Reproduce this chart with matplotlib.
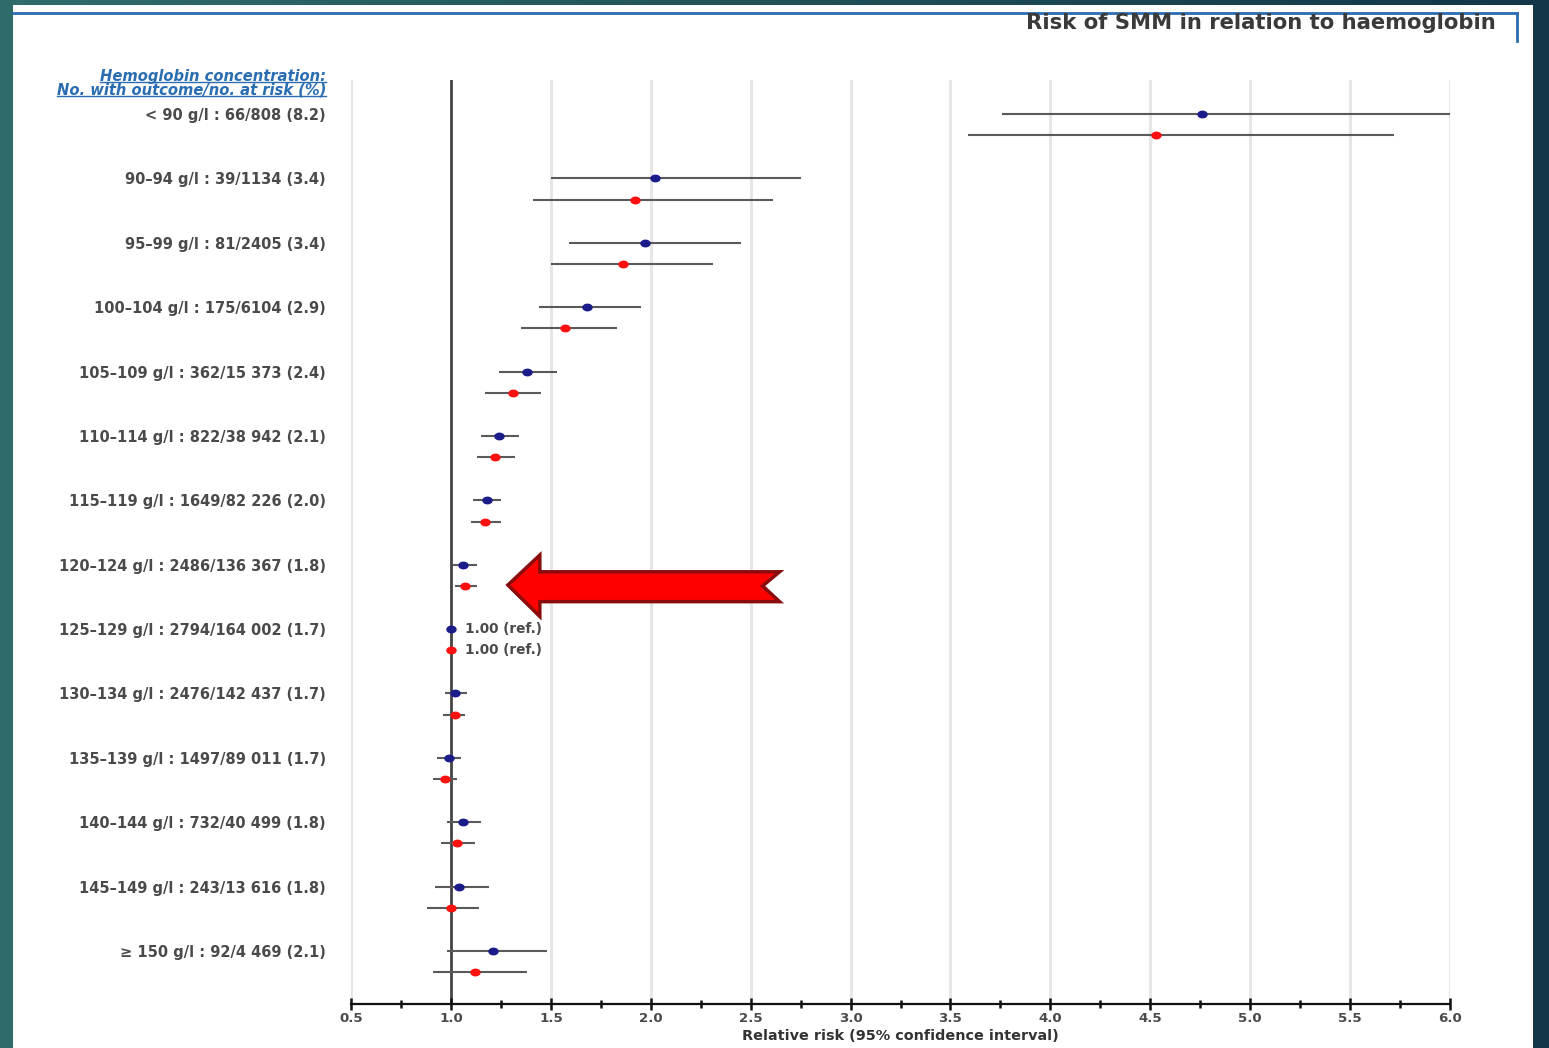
"""Forest plot: risk of SMM by haemoglobin concentration band."""
import numpy as np
import matplotlib
matplotlib.use("Agg")
import matplotlib.pyplot as plt
from matplotlib.patches import Rectangle, Polygon
from matplotlib.lines import Line2D
from matplotlib.path import Path
from matplotlib.ticker import MultipleLocator

######################
# Data
######################

row_labels = [
    "< 90 g/l : 66/808 (8.2)",
    "90\u201394 g/l : 39/1134 (3.4)",
    "95\u201399 g/l : 81/2405 (3.4)",
    "100\u2013104 g/l : 175/6104 (2.9)",
    "105\u2013109 g/l : 362/15 373 (2.4)",
    "110\u2013114 g/l : 822/38 942 (2.1)",
    "115\u2013119 g/l : 1649/82 226 (2.0)",
    "120\u2013124 g/l : 2486/136 367 (1.8)",
    "125\u2013129 g/l : 2794/164 002 (1.7)",
    "130\u2013134 g/l : 2476/142 437 (1.7)",
    "135\u2013139 g/l : 1497/89 011 (1.7)",
    "140\u2013144 g/l : 732/40 499 (1.8)",
    "145\u2013149 g/l : 243/13 616 (1.8)",
    "\u2265 150 g/l : 92/4 469 (2.1)",
]

# first estimate per band (blue)
rr1 = [4.76, 2.02, 1.97, 1.68, 1.38, 1.24, 1.18, 1.06, 1.00, 1.02, 0.99, 1.06, 1.04, 1.21]
lo1 = [3.76, 1.50, 1.59, 1.44, 1.24, 1.15, 1.11, 1.01, 1.00, 0.97, 0.93, 0.98, 0.92, 0.98]
hi1 = [6.02, 2.75, 2.45, 1.95, 1.53, 1.34, 1.25, 1.13, 1.00, 1.08, 1.05, 1.15, 1.19, 1.48]

# second estimate per band (red)
rr2 = [4.53, 1.92, 1.86, 1.57, 1.31, 1.22, 1.17, 1.07, 1.00, 1.02, 0.97, 1.03, 1.00, 1.12]
lo2 = [3.59, 1.41, 1.50, 1.35, 1.17, 1.13, 1.10, 1.02, 1.00, 0.96, 0.91, 0.95, 0.88, 0.91]
hi2 = [5.72, 2.61, 2.31, 1.83, 1.45, 1.32, 1.25, 1.13, 1.00, 1.07, 1.03, 1.12, 1.14, 1.38]

ref_row = 8
ref_text = "1.00 (ref.)"

######################
# Styling
######################

BLUE_PT = "#1b1b8a"
RED_PT = "#ff1010"
CI_COL = "#5a5a5a"
TEXT_COL = "#4a4a4a"
FRAME_BLUE = "#2a6db0"

W, H = 1549, 1048


def main():
    fig = plt.figure(figsize=(W / 100, H / 100), dpi=100)

    # slide background: teal gradient with a white panel on top
    bg = fig.add_axes([0, 0, 1, 1], zorder=-10)
    grad = np.linspace(0, 1, 256)[None, :]
    cmap = matplotlib.colors.LinearSegmentedColormap.from_list(
        "slide", ["#2f6c6a", "#1f5259", "#133649"])
    bg.imshow(grad, cmap=cmap, aspect="auto", extent=[0, 1, 0, 1])
    bg.set_xlim(0, 1)
    bg.set_ylim(0, 1)
    bg.axis("off")
    bg.add_patch(Rectangle((13 / W, 0), (1533 - 13) / W, 1043 / H,
                           facecolor="white", edgecolor="none"))

    # blue frame lines and heading
    fig.add_artist(Line2D([13 / W, 1517 / W], [1 - 13 / H, 1 - 13 / H],
                          color=FRAME_BLUE, lw=2, transform=fig.transFigure))
    fig.add_artist(Line2D([1517 / W, 1517 / W], [1 - 13 / H, 1 - 41 / H],
                          color=FRAME_BLUE, lw=2, transform=fig.transFigure))
    fig.text(1496 / W, 1 - 23 / H, "Risk of SMM in relation to haemoglobin",
             ha="right", va="center", fontsize=15.2, fontweight="bold",
             color="#3a3a3a")

    # forest plot axes
    ax = fig.add_axes([351 / W, 1 - 1004 / H, (1450 - 351) / W, (1004 - 80) / H])
    n = len(row_labels)
    y1 = np.arange(n)
    y2 = y1 + 0.33

    ax.set_xlim(0.5, 6.0)
    ax.set_ylim(n - 1 + 0.823, -0.528)

    for xv in np.arange(0.5, 6.01, 0.5):
        if abs(xv - 1.0) < 1e-9:
            continue
        ax.axvline(xv, color="#e6e6e6", lw=2.2, zorder=0)
    ax.axvline(1.0, color="#444444", lw=2, zorder=1)

    ax.hlines(y1, lo1, hi1, color=CI_COL, lw=1.5, zorder=2)
    ax.hlines(y2, lo2, hi2, color=CI_COL, lw=1.5, zorder=2)

    t = np.linspace(0, 2 * np.pi, 40)
    ellipse = Path(np.column_stack([1.4 * np.cos(t), np.sin(t)]))
    ax.plot(rr1, y1, ls="none", marker=ellipse, ms=6.5, color=BLUE_PT,
            mec=BLUE_PT, zorder=3, clip_on=False)
    ax.plot(rr2, y2, ls="none", marker=ellipse, ms=6.5, color=RED_PT,
            mec=RED_PT, zorder=3, clip_on=False)

    ax.text(1.07, y1[ref_row], ref_text, ha="left", va="center",
            fontsize=9.8, fontweight="bold", color=TEXT_COL)
    ax.text(1.07, y2[ref_row], ref_text, ha="left", va="center",
            fontsize=9.8, fontweight="bold", color=TEXT_COL)

    # row labels
    ax.set_yticks(y1)
    ax.set_yticklabels(row_labels, fontsize=10.5, fontweight="bold",
                       color=TEXT_COL)
    ax.tick_params(axis="y", length=0, pad=18)

    # x axis with crossing ticks
    for side in ("top", "right", "left"):
        ax.spines[side].set_visible(False)
    ax.spines["bottom"].set_linewidth(1.6)
    ax.spines["bottom"].set_color("#111111")
    ax.xaxis.set_major_locator(MultipleLocator(0.5))
    ax.xaxis.set_minor_locator(MultipleLocator(0.25))
    ax.set_xticks(np.arange(0.5, 6.01, 0.5))
    ax.set_xticklabels(["%.1f" % v for v in np.arange(0.5, 6.01, 0.5)],
                       fontsize=9.6, fontweight="bold", color=TEXT_COL)
    ax.tick_params(axis="x", which="major", direction="inout", length=9,
                   width=1.8, color="#111111", pad=1)
    ax.tick_params(axis="x", which="minor", direction="inout", length=6,
                   width=1.8, color="#111111")
    ax.set_xlabel("Relative risk (95% confidence interval)", fontsize=10.4,
                  fontweight="bold", color="#333333", labelpad=3)
    ax.patch.set_alpha(0)

    # highlight arrow pointing at the 120-124 g/l band
    arrow = Polygon([(1.285, 7.316), (1.445, 6.85), (1.445, 7.11),
                     (2.645, 7.11), (2.56, 7.33), (2.645, 7.574),
                     (1.445, 7.574), (1.445, 7.805)],
                    closed=True, facecolor="#ff0000", edgecolor="#8a0c0c",
                    lw=2.5, zorder=5, clip_on=False)
    ax.add_patch(arrow)

    # column heading, underlined
    heads = []
    heads.append(fig.text(326 / W, 1 - 76 / H, "Hemoglobin concentration:",
                          ha="right", va="center", fontsize=10.6,
                          fontweight="bold", style="italic", color=FRAME_BLUE))
    heads.append(fig.text(326 / W, 1 - 90 / H,
                          "No. with outcome/no. at risk (%)",
                          ha="right", va="center", fontsize=10.6,
                          fontweight="bold", style="italic", color=FRAME_BLUE))
    fig.canvas.draw()
    renderer = fig.canvas.get_renderer()
    for txt in heads:
        bb = txt.get_window_extent(renderer)
        yy = (bb.y0 + 1.5) / H
        fig.add_artist(Line2D([bb.x0 / W, bb.x1 / W], [yy, yy],
                              color=FRAME_BLUE, lw=1.0,
                              transform=fig.transFigure))

    fig.savefig("out.png", dpi=100)


if __name__ == "__main__":
    main()
